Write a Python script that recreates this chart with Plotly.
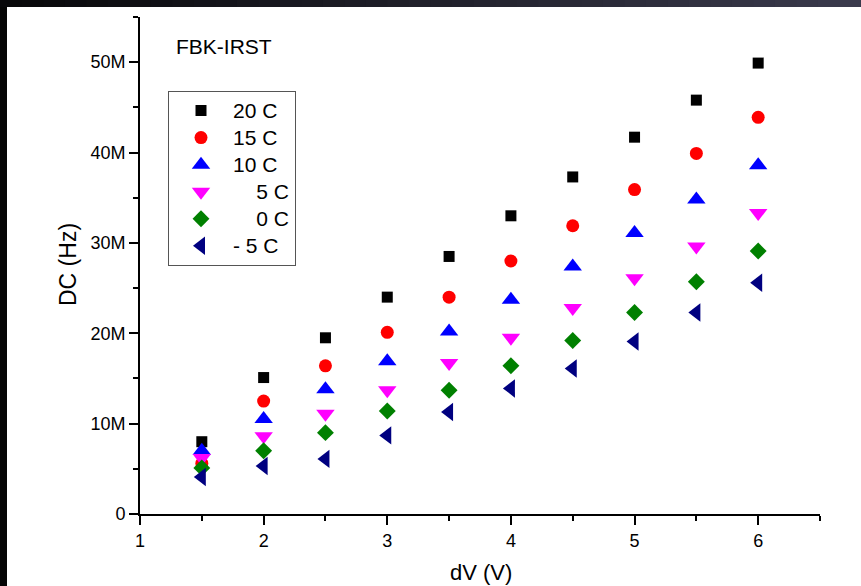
import plotly.graph_objects as go

# Bias over-voltage (V)
dv = [1.5, 2.0, 2.5, 3.0, 3.5, 4.0, 4.5, 5.0, 5.5, 6.0]

# Dark count rate (MHz) per temperature
dc_20 = [8.0, 15.1, 19.5, 24.0, 28.5, 33.0, 37.3, 41.7, 45.8, 49.9]
dc_15 = [5.6, 12.5, 16.4, 20.1, 24.0, 28.0, 31.9, 35.9, 39.9, 43.9]
dc_10 = [7.0, 10.5, 13.8, 16.9, 20.2, 23.7, 27.4, 31.1, 34.8, 38.6]
dc_5 = [6.2, 8.6, 11.1, 13.7, 16.7, 19.5, 22.8, 26.1, 29.6, 33.3]
dc_0 = [5.1, 7.0, 9.0, 11.4, 13.7, 16.4, 19.2, 22.3, 25.7, 29.1]
dc_m5 = [4.1, 5.3, 6.1, 8.7, 11.3, 13.9, 16.1, 19.1, 22.3, 25.6]

series = [
    ("20 C", dc_20, "square", "#000000", 11),
    ("15 C", dc_15, "circle", "#ff0000", 13),
    ("10 C", dc_10, "triangle-up", "#0000ff", 16),
    ("\u2007\u20075 C", dc_5, "triangle-down", "#ff00ff", 16),
    ("\u2007\u20070 C", dc_0, "diamond", "#008000", 13),
    ("- 5 C", dc_m5, "triangle-left", "#000080", 16),
]

W, H = 861, 586
ML, MR, MT, MB = 140, 41, 17, 72
PW, PH = W - ML - MR, H - MT - MB

fig = go.Figure()
for name, vals, sym, col, sz in series:
    fig.add_trace(go.Scatter(
        x=dv, y=[v * 1e6 for v in vals], mode="markers",
        name=f'<span style="font-size:21px">{name}</span>',
        marker=dict(symbol=sym, color=col, size=sz, line=dict(width=0)),
    ))


def px_x(p):
    return (p - ML) / PW


def px_y(p):
    return (H - MB - p) / PH


# Dark frame strips along the top and left edges
shapes = [dict(type="rect", xref="paper", yref="paper",
               x0=px_x(0), x1=px_x(7), y0=px_y(H), y1=px_y(0),
               fillcolor="#050505", line=dict(width=0), layer="above")]
n = 40
for i in range(n):
    t = i / (n - 1)
    r = int(8 + t * (58 - 8))
    g = int(8 + t * (58 - 8))
    b = int(10 + t * (76 - 10))
    shapes.append(dict(type="rect", xref="paper", yref="paper",
                       x0=px_x(W * i / n), x1=px_x(W * (i + 1) / n + 1),
                       y0=px_y(7), y1=px_y(0),
                       fillcolor=f"rgb({r},{g},{b})", line=dict(width=0),
                       layer="above"))

font = "Liberation Sans, Arial, sans-serif"
fig.update_layout(
    width=W, height=H,
    margin=dict(l=ML, r=MR, t=MT, b=MB, autoexpand=False),
    paper_bgcolor="white", plot_bgcolor="white",
    font=dict(family=font, color="black", size=18),
    showlegend=True,
    legend=dict(
        x=px_x(168), y=px_y(91), xanchor="left", yanchor="top",
        bordercolor="#555555", borderwidth=1, bgcolor="white",
        font=dict(size=18.5, family=font), itemwidth=54,
        tracegroupgap=0,
    ),
    xaxis=dict(
        range=[1, 6.5], dtick=1, tick0=1, automargin=False,
        showgrid=False, zeroline=False,
        showline=True, linecolor="black", linewidth=2,
        ticks="outside", ticklen=9, tickwidth=2, tickcolor="black",
        minor=dict(ticks="outside", dtick=0.5, tick0=1, ticklen=5,
                   tickwidth=2, tickcolor="black", showgrid=False),
        tickfont=dict(size=18),
    ),
    yaxis=dict(
        range=[0, 55e6], dtick=10e6, tick0=0, tickformat="~s",
        automargin=False,
        showgrid=False, zeroline=False,
        showline=True, linecolor="black", linewidth=2,
        ticks="outside", ticklen=9, tickwidth=2, tickcolor="black",
        minor=dict(ticks="outside", dtick=5e6, tick0=0, ticklen=5,
                   tickwidth=2, tickcolor="black", showgrid=False),
        tickfont=dict(size=18),
    ),
    shapes=shapes,
    annotations=[
        dict(text="FBK-IRST", xref="paper", yref="paper",
             x=px_x(174), y=px_y(46), xanchor="left", yanchor="middle",
             showarrow=False, font=dict(size=21, family=font)),
        dict(text="dV (V)", xref="paper", yref="paper",
             x=px_x(481), y=px_y(572), xanchor="center", yanchor="middle",
             showarrow=False, font=dict(size=22, family=font)),
        dict(text="DC (Hz)", xref="paper", yref="paper",
             x=px_x(68), y=px_y(265), xanchor="center", yanchor="middle",
             textangle=-90, showarrow=False,
             font=dict(size=23, family=font)),
    ],
)

fig.write_html("out.html")
